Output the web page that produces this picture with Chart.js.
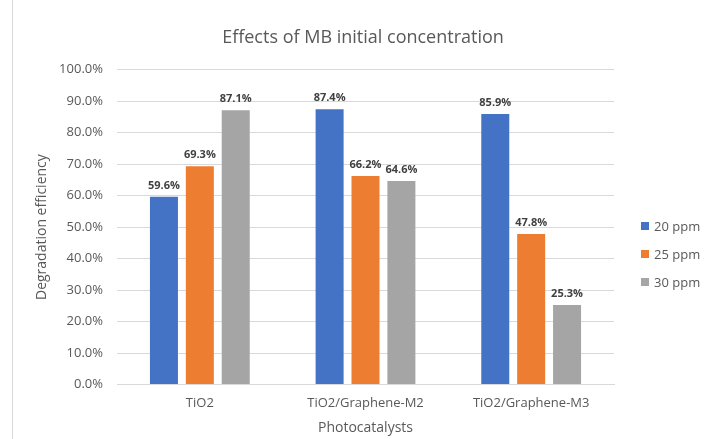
<!DOCTYPE html>
<html>
<head>
<meta charset="utf-8">
<script src="https://cdn.jsdelivr.net/npm/chart.js@4/dist/chart.umd.min.js"></script>
<style>
  html, body { margin: 0; padding: 0; background: #fff; }
  #wrap { position: relative; width: 707px; height: 439px; }
  #frame { position: absolute; left: 12px; top: 0; width: 1px; height: 439px; background: #d9d9d9; }
</style>
</head>
<body>
<div id="wrap">
  <div id="frame"></div>
  <canvas id="chart" width="707" height="439"></canvas>
</div>
<script>
// Chart data
const categories = ['TiO2', 'TiO2/Graphene-M2', 'TiO2/Graphene-M3'];
const seriesNames = ['20 ppm', '25 ppm', '30 ppm'];
const ppm20 = [59.6, 87.4, 85.9];
const ppm25 = [69.3, 66.2, 47.8];
const ppm30 = [87.1, 64.6, 25.3];
const seriesColors = ['#4472C4', '#ED7D31', '#A5A5A5'];

const fontFamily = "'Open Sans', 'Liberation Sans', sans-serif";
const textColor = '#595959';

// Value labels above each bar
const barLabels = {
    id: 'barLabels',
    afterDatasetsDraw(chart) {
        const ctx = chart.ctx;
        ctx.save();
        ctx.font = 'bold 11px ' + fontFamily;
        ctx.fillStyle = '#404040';
        ctx.textAlign = 'center';
        ctx.textBaseline = 'bottom';
        chart.data.datasets.forEach((ds, i) => {
            chart.getDatasetMeta(i).data.forEach((bar, j) => {
                ctx.fillText(ds.data[j].toFixed(1) + '%', bar.x, bar.y - 6);
            });
        });
        ctx.restore();
    }
};

// Legend drawn on the right, in the space kept free by the spacer axis
const sideLegend = {
    id: 'sideLegend',
    afterDraw(chart) {
        const ctx = chart.ctx;
        const x = chart.chartArea.right + 27;
        const y0 = 226;
        ctx.save();
        ctx.font = '13px ' + fontFamily;
        ctx.textBaseline = 'middle';
        chart.data.datasets.forEach((ds, i) => {
            const y = y0 + i * 28;
            ctx.fillStyle = ds.backgroundColor;
            ctx.fillRect(x, y - 4, 8, 8);
            ctx.fillStyle = textColor;
            ctx.fillText(ds.label, x + 13, y + 1);
        });
        ctx.restore();
    }
};

const ctx = document.getElementById('chart').getContext('2d');
new Chart(ctx, {
    type: 'bar',
    data: {
        labels: categories,
        datasets: [ppm20, ppm25, ppm30].map((values, i) => ({
            label: seriesNames[i],
            data: values,
            backgroundColor: seriesColors[i],
            categoryPercentage: 0.65,
            barPercentage: 0.78
        }))
    },
    options: {
        responsive: false,
        animation: false,
        layout: { padding: { left: 19, right: 0, top: 0, bottom: 0 } },
        scales: {
            x: {
                grid: { display: false },
                border: { color: '#d9d9d9' },
                ticks: { color: textColor, font: { family: fontFamily, size: 13 }, padding: 3 },
                title: {
                    display: true,
                    text: 'Photocatalysts',
                    color: textColor,
                    font: { family: fontFamily, size: 14 },
                    padding: { top: 5, bottom: 3 }
                }
            },
            y: {
                min: 0,
                max: 100,
                afterFit: s => { s.width = 98; },
                ticks: {
                    stepSize: 10,
                    color: textColor,
                    font: { family: fontFamily, size: 13 },
                    padding: 14,
                    callback: v => v.toFixed(1) + '%'
                },
                grid: { color: '#d9d9d9', drawTicks: false },
                border: { display: false },
                title: {
                    display: true,
                    text: 'Degradation efficiency',
                    color: textColor,
                    font: { family: fontFamily, size: 14 },
                    padding: { top: 15, bottom: 0 }
                }
            },
            // empty axis that keeps room for the legend
            spacer: {
                type: 'linear',
                position: 'right',
                afterFit: s => { s.width = 93; },
                grid: { display: false },
                border: { display: false },
                ticks: { display: false }
            }
        },
        plugins: {
            title: {
                display: true,
                text: 'Effects of MB initial concentration',
                color: textColor,
                font: { family: fontFamily, size: 18, weight: 'normal' },
                padding: { top: 27, bottom: 21 }
            },
            legend: { display: false },
            tooltip: { enabled: false }
        }
    },
    plugins: [barLabels, sideLegend]
});
</script>
</body>
</html>
